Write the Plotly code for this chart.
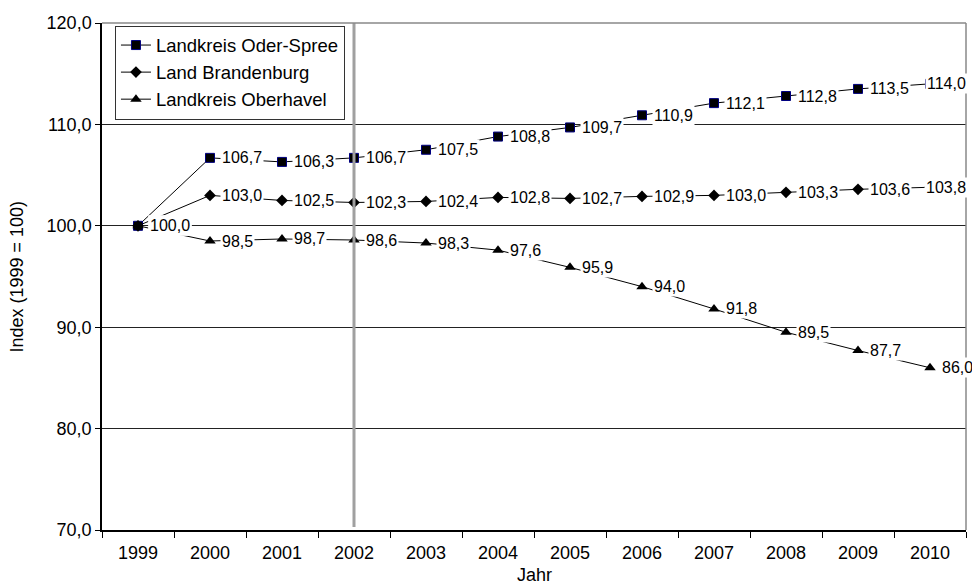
import plotly.graph_objects as go

years = ["1999", "2000", "2001", "2002", "2003", "2004", "2005", "2006", "2007", "2008", "2009", "2010"]
oder_spree = [100.0, 106.7, 106.3, 106.7, 107.5, 108.8, 109.7, 110.9, 112.1, 112.8, 113.5, 114.0]
brandenburg = [100.0, 103.0, 102.5, 102.3, 102.4, 102.8, 102.7, 102.9, 103.0, 103.3, 103.6, 103.8]
oberhavel = [100.0, 98.5, 98.7, 98.6, 98.3, 97.6, 95.9, 94.0, 91.8, 89.5, 87.7, 86.0]
series_names = ["Landkreis Oder-Spree", "Land Brandenburg", "Landkreis Oberhavel"]
y_ticks = [70, 80, 90, 100, 110, 120]
marked_year = "2002"

FONT = "Liberation Sans, Arial, sans-serif"
xs = list(range(len(years)))

fig = go.Figure()
styles = [
    dict(symbol="square", size=9, color="black", line=dict(color="#000080", width=1)),
    dict(symbol="diamond", size=9, color="black", line=dict(width=0)),
    dict(symbol="triangle-up", size=10, color="black", line=dict(width=0)),
]
all_series = [oder_spree, brandenburg, oberhavel]
for name, vals, st in zip(series_names, all_series, styles):
    fig.add_trace(go.Scatter(
        x=xs, y=vals, name=name, mode="lines+markers",
        line=dict(color="black", width=1),
        marker=st,
    ))

annotations = []
for si, vals in enumerate(all_series):
    for i, v in enumerate(vals):
        txt = f"{v:.1f}".replace(".", ",")
        last = (i == len(vals) - 1) and si < 2
        annotations.append(dict(
            x=xs[i], y=v, xref="x", yref="y", text=txt, showarrow=False,
            xanchor="right" if last else "left",
            xshift=38 if last else 10,
            yanchor="middle",
            bgcolor="white", borderpad=1,
            font=dict(family=FONT, size=16, color="black"),
        ))

annotations.append(dict(
    x=0, y=0.5, xref="paper", yref="paper", xshift=-86, text="Index (1999 = 100)",
    textangle=-90, showarrow=False, xanchor="center", yanchor="middle",
    font=dict(family=FONT, size=18, color="black"),
))
annotations.append(dict(
    x=0.5, y=0, xref="paper", yref="paper", yshift=-45, text="Jahr",
    showarrow=False, xanchor="center", yanchor="middle",
    font=dict(family=FONT, size=18, color="black"),
))

mark_idx = years.index(marked_year)
shapes = [
    dict(type="line", xref="x", yref="paper", x0=mark_idx, x1=mark_idx, y0=0.006, y1=1,
         line=dict(color="#a0a0a0", width=3), layer="above"),
    dict(type="line", xref="paper", yref="paper", x0=0, x1=1, y0=1, y1=1,
         line=dict(color="#888888", width=1.5), layer="above"),
    dict(type="line", xref="paper", yref="paper", x0=1, x1=1, y0=0, y1=1,
         line=dict(color="#888888", width=1.5), layer="above"),
]

fig.update_layout(
    width=972, height=588,
    margin=dict(l=102, r=6, t=23, b=58),
    paper_bgcolor="white", plot_bgcolor="white",
    separators=",.",
    font=dict(family=FONT, size=18, color="black"),
    showlegend=True,
    legend=dict(
        x=0.015, y=0.995, xanchor="left", yanchor="top",
        bordercolor="#333333", borderwidth=1, bgcolor="white",
        font=dict(family=FONT, size=18.5, color="black"),
        tracegroupgap=0, itemwidth=30,
    ),
    annotations=annotations,
    shapes=shapes,
    xaxis=dict(
        range=[-0.5, len(years) - 0.5],
        tickvals=xs, ticktext=years,
        ticks="outside", ticklen=6, tickcolor="rgba(0,0,0,0)",
        showgrid=False, zeroline=False,
        showline=True, linecolor="black", linewidth=1.5,
        tickfont=dict(family=FONT, size=18, color="black"),
        minor=dict(tickvals=[i - 0.5 for i in range(len(years) + 1)],
                   ticks="outside", ticklen=6, tickcolor="black", tickwidth=1, showgrid=False),
    ),
    yaxis=dict(
        range=[70, 120], tickvals=y_ticks, tickformat=".1f",
        ticks="outside", ticklen=5, tickcolor="black",
        showgrid=True, gridcolor="#222222", gridwidth=1,
        zeroline=False, showline=True, linecolor="black", linewidth=1.5,
        tickfont=dict(family=FONT, size=18, color="black"),
    ),
)

fig.write_html("out.html", config={"displayModeBar": False},
               post_script="document.body.style.margin='0';document.body.style.padding='0';")
